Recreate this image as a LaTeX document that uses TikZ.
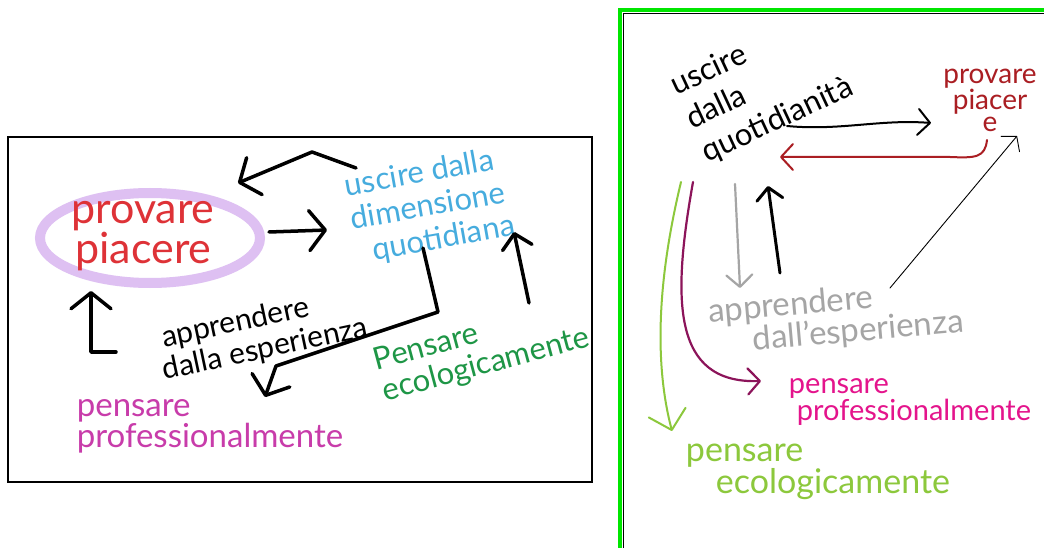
\documentclass[tikz,border=0pt]{standalone}
\usepackage{fontspec}
\setmainfont{Lato}
\usetikzlibrary{arrows.meta,shapes.geometric}
\definecolor{lav}{RGB}{222,192,242}
\definecolor{redL}{RGB}{222,50,55}
\definecolor{blueL}{RGB}{70,172,222}
\definecolor{greenL}{RGB}{30,150,70}
\definecolor{magL}{RGB}{200,60,170}
\definecolor{redR}{RGB}{170,30,35}
\definecolor{magR}{RGB}{228,20,140}
\definecolor{plumR}{RGB}{140,20,90}
\definecolor{limeR}{RGB}{140,200,60}
\definecolor{grayR}{RGB}{165,165,165}
\definecolor{frameG}{RGB}{0,230,0}
\tikzset{
  lbl/.style={inner sep=0pt, align=left},
  fat/.style={line width=3.5pt, line cap=round, line join=round},
  bighead/.style={-{Straight Barb[length=16pt,width=40pt,round]}},
  midhead/.style={-{Straight Barb[length=14pt,width=30pt,round]}},
  thinhead/.style={-{Straight Barb[length=12pt,width=26pt,round]}},
}
\begin{document}
\begin{tikzpicture}[x=1pt,y=-1pt]
\useasboundingbox (0,0) rectangle (1044,548);
\fill[white] (0,0) rectangle (1044,548);
\begin{scope}
\clip (0,0) rectangle (1044,548);
% ---------------- left panel ----------------
\draw[line width=1.5pt] (8,137) rectangle (592,482);
\node[ellipse, draw=lav, line width=10pt, minimum width=220pt, minimum height=90pt, inner sep=0pt] (pe) at (150,238) {};
\node[lbl, align=left, text=redL, font=\fontsize{43}{32}\selectfont] (pp) at (143,236) {provare\\\hspace*{4pt}piacere};
\node[lbl, text=blueL, rotate=10, font=\fontsize{31}{34}\selectfont] (us) at (430,207) {uscire dalla\\dimensione\\\hspace*{16pt}quotidiana};
\node[lbl, rotate=12, font=\fontsize{30}{32}\selectfont] (ap) at (262,334) {\hspace*{6pt}apprendere\\dalla esperienza};
\node[lbl, text=magL, font=\fontsize{33}{26}\selectfont] (pr) at (210,426) {pensare\\professionalmente};
\node[lbl, text=greenL, rotate=15, font=\fontsize{31}{32}\selectfont] (ec) at (482,350) {Pensare\\ecologicamente};
% connectors
\coordinate (a1s) at (269,232); \coordinate (a1e) at (327,230);
\draw[fat, bighead] (a1s) -- (a1e);
\coordinate (a2s) at (356,168); \coordinate (a2m) at (312,152); \coordinate (a2e) at (238,183);
\draw[fat, bighead] (a2s) -- (a2m) -- (a2e);
\coordinate (a3s) at (423,248); \coordinate (a3m) at (438,312); \coordinate (a3n) at (276,366); \coordinate (a3e) at (265,397);
\draw[fat, bighead] (a3s) -- (a3m) -- (a3n) -- (a3e);
\coordinate (a4s) at (529,303); \coordinate (a4e) at (514,232);
\draw[fat, midhead] (a4s) -- (a4e);
\coordinate (a5s) at (116,352); \coordinate (a5m) at (91,352); \coordinate (a5e) at (91,291);
\draw[fat, bighead] (a5s) -- (a5m) -- (a5e);
% ---------------- right panel ----------------
\draw[frameG, line width=4pt] (620,10) rectangle (1070,570);
\draw[black, line width=1.2pt] (623.5,13.5) rectangle (1070,570);
\node[lbl, rotate=25, font=\fontsize{31}{37}\selectfont] (uq) at (762,87) {uscire\\dalla\\quotidianità};
\node[lbl, align=center, text=redR, font=\fontsize{28}{22}\selectfont] (pv) at (990,100) {provare\\piacer\\e};
\node[lbl, text=grayR, rotate=5, font=\fontsize{33}{27}\selectfont] (ae) at (836,318) {apprendere\\\hspace*{42pt}dall'esperienza};
\node[lbl, text=magR, font=\fontsize{29}{23}\selectfont] (pm) at (910,402) {pensare\\\hspace*{8pt}professionalmente};
\node[lbl, text=limeR, font=\fontsize{34}{27}\selectfont] (pg) at (818,472) {pensare\\\hspace*{30pt}ecologicamente};
% connectors
\coordinate (b1s) at (787,126); \coordinate (b1e) at (931,123);
\draw[line width=2pt, line cap=round, thinhead] (b1s) .. controls (840,131) and (880,119) .. (b1e);
\coordinate (b2s) at (987,140); \coordinate (b2e) at (780,157);
\draw[redR, line width=2pt, line cap=round, line join=round, thinhead] (b2s) .. controls (985,158) and (975,158) .. (950,157) -- (b2e);
\coordinate (b3s) at (890,288); \coordinate (b3e) at (1017,136);
\draw[line width=0.9pt, line cap=round, {-Straight Barb[length=10pt,width=24pt,round]}] (b3s) -- (b3e);
\coordinate (b4s) at (735,184); \coordinate (b4e) at (740,288);
\draw[grayR, line width=2.2pt, line cap=round, thinhead] (b4s) -- (b4e);
\coordinate (b5s) at (780,273); \coordinate (b5e) at (768,186);
\draw[line width=3pt, line cap=round, thinhead] (b5s) -- (b5e);
\coordinate (b6s) at (693,182); \coordinate (b6e) at (761,381);
\draw[plumR, line width=2.2pt, line cap=round, thinhead] (b6s) .. controls (672,300) and (672,384) .. (b6e);
\coordinate (b7s) at (681,182); \coordinate (b7e) at (672,431);
\draw[limeR, line width=2pt, line cap=round, -{Straight Barb[length=18pt,width=38pt,round]}] (b7s) .. controls (655,290) and (656,370) .. (b7e);
\end{scope}
\end{tikzpicture}
\end{document}
